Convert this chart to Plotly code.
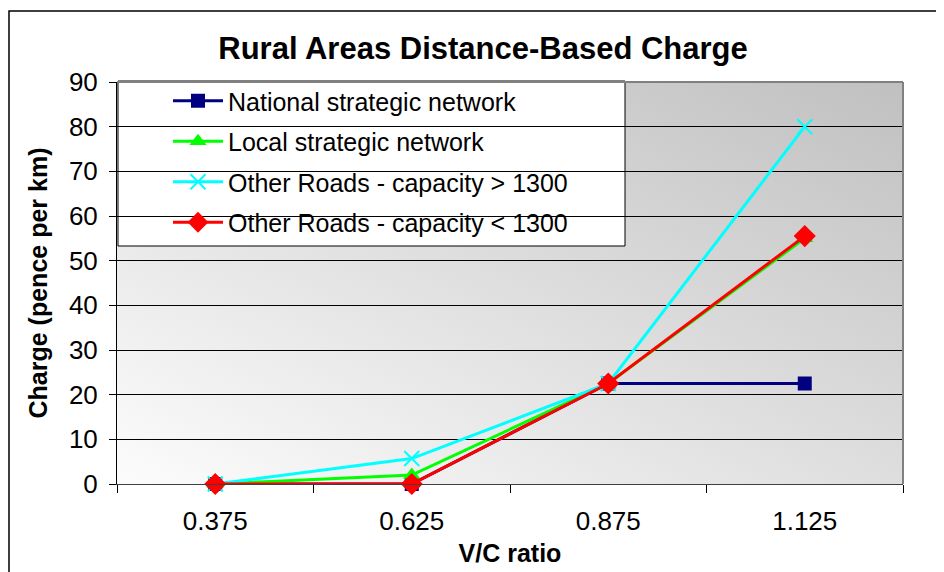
import base64

import plotly.graph_objects as go

# category labels and series values
vc_ratio = ["0.375", "0.625", "0.875", "1.125"]
national = [0, 0, 22.5, 22.5]
local = [0, 2, 22.5, 55]
other_hi = [0, 5.7, 22.5, 80]
other_lo = [0, 0, 22.5, 55.5]

y_ticks = list(range(0, 91, 10))

FONT = "Liberation Sans, Arial, sans-serif"

# page body has an 8px margin, so the figure is drawn 8px in from the corner
OFF = 8
W, H = 936, 564
L, R, T, B = 109, 41, 74, 88
pw, ph = W - L - R, H - T - B


def px_x(p):
    # reference pixel -> paper x
    return (p - OFF - L) / pw


def px_y(p):
    # reference pixel -> paper y
    return (H - B - (p - OFF)) / ph


# diagonal grey gradient for the plot background (svg data uri, no network)
svg = (
    '<svg xmlns="http://www.w3.org/2000/svg" width="100" height="100" '
    'viewBox="0 0 100 100" preserveAspectRatio="none">'
    '<defs><linearGradient id="g" x1="0" y1="1" x2="1" y2="0">'
    '<stop offset="0" stop-color="#fcfcfc"/><stop offset="1" stop-color="#c0c0c0"/>'
    '</linearGradient></defs><rect width="100" height="100" fill="url(#g)"/></svg>'
)
bg_uri = "data:image/svg+xml;base64," + base64.b64encode(svg.encode()).decode()

series = [
    ("National strategic network", national, "#000080",
     dict(symbol="square", size=14)),
    ("Local strategic network", local, "#00ff00",
     dict(symbol="triangle-up", size=15)),
    ("Other Roads - capacity > 1300", other_hi, "#00ffff",
     dict(symbol="x-thin", size=15, line=dict(width=2, color="#00ffff"))),
    ("Other Roads - capacity < 1300", other_lo, "#ff0000",
     dict(symbol="diamond", size=17)),
]

fig = go.Figure()
for i, (name, vals, col, mk) in enumerate(series):
    fig.add_trace(go.Scatter(
        x=vc_ratio,
        y=vals,
        name=name,
        mode="lines+markers",
        line=dict(color=col, width=3),
        marker=dict(color=col, **mk),
        cliponaxis=False,
        legendgroup=f"g{i}",
    ))

fig.update_layout(
    width=W,
    height=H,
    margin=dict(l=L, r=R, t=T, b=B, pad=0, autoexpand=False),
    paper_bgcolor="white",
    plot_bgcolor="rgba(0,0,0,0)",
    font=dict(family=FONT, color="black", size=25),
    title=dict(
        text="<b>Rural Areas Distance-Based Charge</b>",
        font=dict(size=31, family=FONT, color="black"),
        x=(483 - OFF) / W, xref="container", xanchor="center",
        y=1 - (48 - OFF) / H, yref="container", yanchor="middle",
    ),
    showlegend=True,
    legend=dict(
        x=px_x(168), y=px_y(78), xanchor="left", yanchor="top",
        bgcolor="rgba(0,0,0,0)", borderwidth=0,
        font=dict(size=25, family=FONT, color="black"),
        tracegroupgap=5,
        itemwidth=50,
    ),
    xaxis=dict(
        type="category",
        range=[-0.5, 3.5],
        automargin=False,
        showgrid=False,
        zeroline=False,
        showline=True, linecolor="#404040", linewidth=1,
        ticks="outside", tickson="boundaries", ticklen=8,
        tickcolor="black", tickwidth=1,
        tickfont=dict(size=26),
        ticklabelstandoff=14,
        title=dict(text="<b>V/C ratio</b>", font=dict(size=25), standoff=9),
    ),
    yaxis=dict(
        range=[0, 90],
        tickvals=y_ticks,
        automargin=False,
        showgrid=True, gridcolor="black", gridwidth=1,
        zeroline=False,
        showline=True, linecolor="black", linewidth=1,
        ticks="outside", ticklen=7, tickcolor="black", tickwidth=1,
        tickfont=dict(size=26),
        ticklabelstandoff=6,
        title=dict(text="<b>Charge (pence per km)</b>", font=dict(size=25),
                   standoff=14),
    ),
    images=[dict(
        source=bg_uri, xref="paper", yref="paper",
        x=0, y=1, sizex=1, sizey=1,
        sizing="stretch", layer="below",
    )],
    shapes=[
        # plot area frame top and right (grey)
        dict(type="line", xref="paper", yref="paper", x0=0, x1=1, y0=1, y1=1,
             line=dict(color="#808080", width=2)),
        dict(type="line", xref="paper", yref="paper", x0=1, x1=1, y0=0, y1=1,
             line=dict(color="#808080", width=2)),
        # white legend box, over the grid but under the lines
        dict(type="rect", xref="paper", yref="paper", layer="between",
             x0=px_x(118), x1=px_x(625), y0=px_y(246), y1=px_y(81),
             fillcolor="white", line=dict(color="black", width=1)),
        # chart area border, cropped by the page edge
        dict(type="rect", xref="paper", yref="paper",
             x0=px_x(9), x1=px_x(1000), y0=px_y(620), y1=px_y(11),
             line=dict(color="black", width=1.5)),
    ],
)

fig.write_html("out.html")
